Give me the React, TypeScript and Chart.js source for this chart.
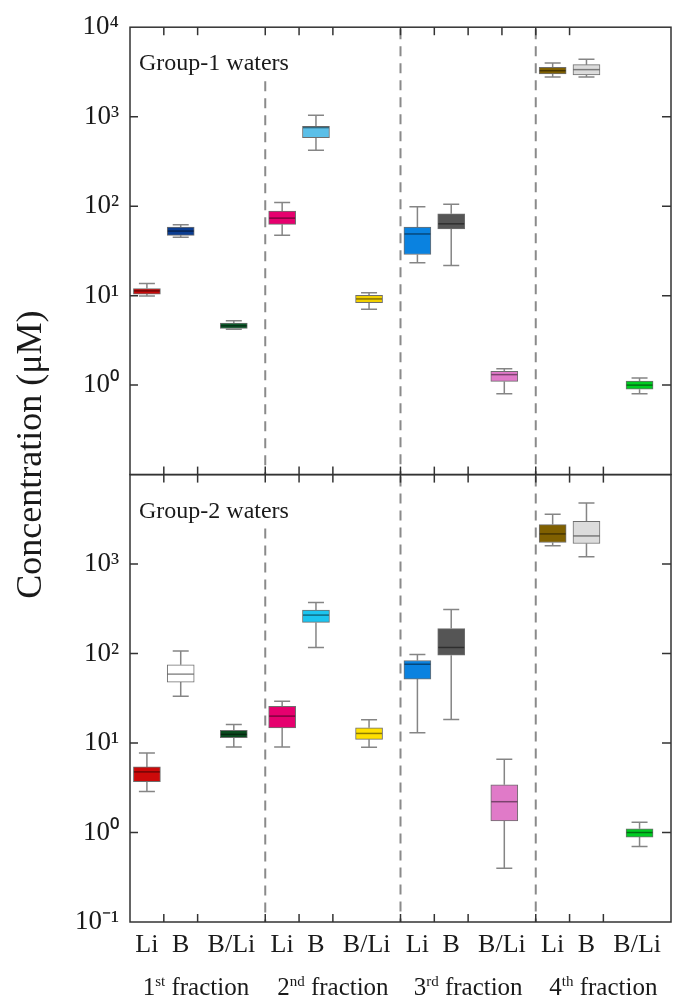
import React, { useEffect, useRef } from 'react';
import { Chart, registerables } from 'chart.js';

Chart.register(...registerables);

// ---- data ----
const boxPositions = [0.5, 1.5, 3.07, 4.5, 5.5, 7.07, 8.5, 9.5, 11.07, 12.5, 13.5, 15.07];
const categoryLabels = ['Li', 'B', 'B/Li', 'Li', 'B', 'B/Li', 'Li', 'B', 'B/Li', 'Li', 'B', 'B/Li'];
const labelPositions = [0.5, 1.5, 3, 4.5, 5.5, 7, 8.5, 9.5, 11, 12.5, 13.5, 15];
const fractionNumbers = ['1', '2', '3', '4'];
const fractionSuffixes = ['st', 'nd', 'rd', 'th'];
const fractionCenters = [1.95, 6, 10, 14];
const fractionBoundaries = [4, 8, 12];
const decadeTicks = [0.1, 1, 10, 100, 1000, 10000];
const topEdgeTicks = [1, 2, 4, 5, 6, 8, 9, 10, 11, 12, 13];
const otherEdgeTicks = [1, 2, 4, 5, 6, 8, 9, 10, 12, 13, 14];

// Group-1 waters
const g1Min = [9.9, 44.9, 4.2, 47.2, 422, 7.05, 23.3, 21.7, 0.8, 2783, 2783, 0.8];
const g1Q1 = [10.4, 47.2, 4.3, 62.6, 584, 8.36, 28.8, 55.5, 1.1, 3003, 2930, 0.9];
const g1Median = [11.3, 52.7, 4.6, 73.5, 755, 9.19, 48.9, 63.5, 1.31, 3266, 3357, 1.0];
const g1Q3 = [12.0, 58.4, 4.92, 88, 781, 10.1, 58.4, 82, 1.43, 3565, 3811, 1.11];
const g1Max = [13.7, 62, 5.23, 110, 1035, 10.8, 98.2, 105, 1.52, 3981, 4375, 1.2];
const g1Colors = ['#cc0a0a', '#0b3d91', '#0b5a2a', '#e6006e', '#5bbfe8', '#f2d000', '#0a82e0', '#555555', '#e07ac8', '#806000', '#dcdcdc', '#00cc22'];

// Group-2 waters
const g2Min = [2.88, 33.3, 9.03, 9.03, 117, 9.0, 13.0, 18.3, 0.4, 1600, 1205, 0.7];
const g2Q1 = [3.71, 48, 11.5, 14.8, 223, 11.0, 51.8, 95.7, 1.35, 1742, 1698, 0.89];
const g2Median = [4.76, 58.9, 12.5, 20, 269, 12.8, 76, 117, 2.21, 2173, 2063, 1.0];
const g2Q3 = [5.41, 74.9, 13.9, 25.8, 306, 14.8, 83.6, 190, 3.42, 2761, 3003, 1.1];
const g2Max = [7.74, 107, 16.1, 29.3, 372, 18.2, 97.5, 311, 6.59, 3594, 4800, 1.3];
const g2Colors = ['#cc0a0a', '#ffffff', '#0a4a1e', '#e6006e', '#1cc4f0', '#ffe000', '#0a82e0', '#555555', '#e07ac8', '#806000', '#dcdcdc', '#00cc22'];

const SERIF = '"Liberation Serif", "Times New Roman", serif';
const SUP: Record<string, string> = { '-': '\u207B', '0': '\u2070', '1': '\u00B9', '2': '\u00B2', '3': '\u00B3', '4': '\u2074' };
const expLabel = (v: number) => {
  const e = Math.round(Math.log10(v));
  return '10' + String(e).split('').map((c) => SUP[c] || c).join('');
};

const panels = [
  { axis: 'yTop', label: 'Group-1 waters', min: g1Min, q1: g1Q1, med: g1Median, q3: g1Q3, max: g1Max, edgeTicks: topEdgeTicks },
  { axis: 'yBottom', label: 'Group-2 waters', min: g2Min, q1: g2Q1, med: g2Median, q3: g2Q3, max: g2Max, edgeTicks: otherEdgeTicks },
];

const boxPlugin = {
  id: 'boxDecor',
  beforeDatasetsDraw(chart: any) {
    const ctx = chart.ctx;
    const x = chart.scales.x;
    ctx.save();
    // dashed separators
    ctx.strokeStyle = '#8a8a8a';
    ctx.lineWidth = 2;
    ctx.setLineDash([10, 7]);
    panels.forEach((p) => {
      const ys = chart.scales[p.axis];
      fractionBoundaries.forEach((b, i) => {
        const px = x.getPixelForValue(b);
        ctx.beginPath();
        ctx.moveTo(px, ys.top + (i === 0 ? 54 : 2));
        ctx.lineTo(px, ys.bottom);
        ctx.stroke();
      });
    });
    ctx.setLineDash([]);
    // whiskers
    ctx.strokeStyle = '#858585';
    ctx.lineWidth = 1.5;
    panels.forEach((p) => {
      const ys = chart.scales[p.axis];
      boxPositions.forEach((bx, i) => {
        const px = x.getPixelForValue(bx);
        const yMin = ys.getPixelForValue(p.min[i]);
        const yMax = ys.getPixelForValue(p.max[i]);
        const yQ1 = ys.getPixelForValue(p.q1[i]);
        const yQ3 = ys.getPixelForValue(p.q3[i]);
        ctx.beginPath();
        ctx.moveTo(px, yQ3);
        ctx.lineTo(px, yMax);
        ctx.moveTo(px, yQ1);
        ctx.lineTo(px, yMin);
        ctx.moveTo(px - 8, yMax);
        ctx.lineTo(px + 8, yMax);
        ctx.moveTo(px - 8, yMin);
        ctx.lineTo(px + 8, yMin);
        ctx.stroke();
      });
    });
    ctx.restore();
  },
  afterDatasetsDraw(chart: any) {
    const ctx = chart.ctx;
    const x = chart.scales.x;
    ctx.save();
    ctx.strokeStyle = 'rgba(0,0,0,0.45)';
    ctx.lineWidth = 1.5;
    panels.forEach((p) => {
      const ys = chart.scales[p.axis];
      boxPositions.forEach((bx, i) => {
        const px = x.getPixelForValue(bx);
        const y = ys.getPixelForValue(p.med[i]);
        ctx.beginPath();
        ctx.moveTo(px - 13, y);
        ctx.lineTo(px + 13, y);
        ctx.stroke();
      });
    });
    ctx.restore();
  },
  afterDraw(chart: any) {
    const ctx = chart.ctx;
    const x = chart.scales.x;
    const area = chart.chartArea;
    ctx.save();
    ctx.strokeStyle = '#333333';
    ctx.lineWidth = 1.5;
    panels.forEach((p) => {
      const ys = chart.scales[p.axis];
      ctx.strokeRect(area.left, ys.top, area.right - area.left, ys.bottom - ys.top);
      decadeTicks.forEach((v) => {
        const py = ys.getPixelForValue(v);
        if (py <= ys.top + 1 || py >= ys.bottom - 1) return;
        ctx.beginPath();
        ctx.moveTo(area.left, py);
        ctx.lineTo(area.left + 8, py);
        ctx.moveTo(area.right, py);
        ctx.lineTo(area.right - 9, py);
        ctx.stroke();
      });
      p.edgeTicks.forEach((t) => {
        const px = x.getPixelForValue(t);
        ctx.beginPath();
        ctx.moveTo(px, ys.top);
        ctx.lineTo(px, ys.top + 8);
        ctx.stroke();
      });
      otherEdgeTicks.forEach((t) => {
        const px = x.getPixelForValue(t);
        ctx.beginPath();
        ctx.moveTo(px, ys.bottom);
        ctx.lineTo(px, ys.bottom - 8);
        ctx.stroke();
      });
      ctx.fillStyle = '#1a1a1a';
      ctx.font = `24px ${SERIF}`;
      ctx.textAlign = 'left';
      ctx.textBaseline = 'alphabetic';
      ctx.fillText(p.label, area.left + 9, ys.top + 43);
    });
    // y title
    ctx.save();
    ctx.translate(41, (area.top + area.bottom) / 2 - 20);
    ctx.rotate(-Math.PI / 2);
    ctx.font = `36px ${SERIF}`;
    ctx.fillStyle = '#1a1a1a';
    ctx.textAlign = 'center';
    ctx.textBaseline = 'alphabetic';
    ctx.fillText('Concentration (\u03BCM)', 0, 0);
    ctx.restore();
    // fraction labels
    ctx.fillStyle = '#1a1a1a';
    ctx.textBaseline = 'alphabetic';
    ctx.textAlign = 'left';
    fractionCenters.forEach((c, i) => {
      const big = `25px ${SERIF}`;
      const small = `15px ${SERIF}`;
      ctx.font = big;
      const w1 = ctx.measureText(fractionNumbers[i]).width;
      const w3 = ctx.measureText(' fraction').width;
      ctx.font = small;
      const w2 = ctx.measureText(fractionSuffixes[i]).width;
      const total = w1 + w2 + w3;
      let px = x.getPixelForValue(c) - total / 2;
      const base = 995;
      ctx.font = big;
      ctx.fillText(fractionNumbers[i], px, base);
      px += w1;
      ctx.font = small;
      ctx.fillText(fractionSuffixes[i], px, base - 9);
      px += w2;
      ctx.font = big;
      ctx.fillText(' fraction', px, base);
    });
    ctx.restore();
  },
};

const yCommon = (hide: number) => ({
  type: 'logarithmic' as const,
  position: 'left' as const,
  stack: 'panels',
  stackWeight: 1,
  min: 0.1,
  max: 10000,
  grid: { display: false, drawTicks: false },
  border: { display: false },
  afterBuildTicks: (scale: any) => {
    scale.ticks = decadeTicks.map((v) => ({ value: v }));
  },
  afterFit: (scale: any) => {
    scale.width = 130;
  },
  ticks: {
    padding: 11,
    color: '#1a1a1a',
    font: { family: SERIF, size: 27 },
    autoSkip: false,
    callback: (v: number) => (Math.abs(v - hide) < 1e-9 ? '' : expLabel(v)),
  },
});

export default function App() {
  const ref = useRef<HTMLCanvasElement | null>(null);
  useEffect(() => {
    document.body.style.margin = '0';
    const canvas = ref.current!;
    const chart = new Chart(canvas, {
      type: 'bar',
      data: {
        datasets: panels.map((p, pi) => ({
          label: p.label,
          yAxisID: p.axis,
          xAxisID: 'x',
          data: boxPositions.map((bx, i) => ({ x: bx, y: [p.q1[i], p.q3[i]] })) as any,
          backgroundColor: pi === 0 ? g1Colors : g2Colors,
          borderColor: '#6e6e6e',
          borderWidth: 1,
          borderSkipped: false,
          barThickness: 27,
          grouped: false,
        })),
      },
      options: {
        responsive: false,
        animation: false,
        devicePixelRatio: 1,
        layout: { padding: { top: 23, right: 9, left: 0, bottom: 0 } },
        plugins: { legend: { display: false }, tooltip: { enabled: false }, title: { display: false } },
        scales: {
          x: {
            type: 'linear',
            offset: false,
            min: 0,
            max: 16,
            position: 'bottom',
            grid: { display: false, drawTicks: false, offset: false },
            border: { display: false },
            afterBuildTicks: (scale: any) => {
              scale.ticks = labelPositions.map((v) => ({ value: v }));
            },
            afterFit: (scale: any) => {
              scale.height = 79;
            },
            ticks: {
              autoSkip: false,
              maxRotation: 0,
              padding: 8,
              color: '#1a1a1a',
              font: { family: SERIF, size: 26 },
              callback: (_v: any, i: number) => categoryLabels[i],
            },
          },
          yBottom: { ...yCommon(10000), weight: 0 },
          yTop: { ...yCommon(0.1), weight: 1 },
        } as any,
      },
      plugins: [boxPlugin],
    });
    return () => chart.destroy();
  }, []);
  return (
    <div style={{ width: 680, height: 1001, background: '#fff' }}>
      <canvas ref={ref} width={680} height={1001} style={{ display: 'block', width: 680, height: 1001 }} />
    </div>
  );
}
